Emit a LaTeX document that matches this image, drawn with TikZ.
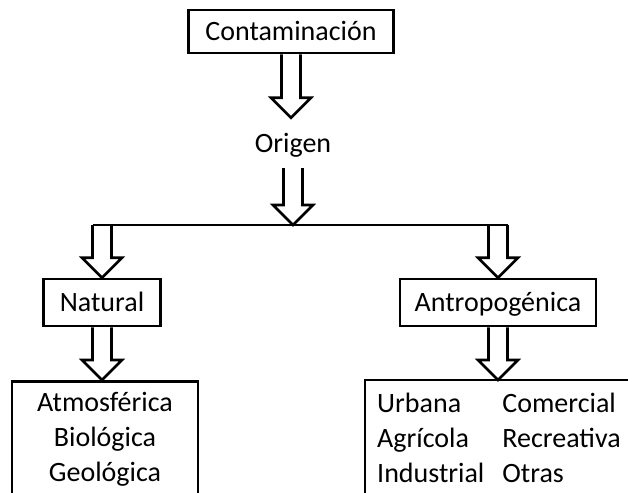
\documentclass[tikz,border=0pt]{standalone}
\usepackage{fontspec}
\setmainfont{Carlito}
\usetikzlibrary{calc}

\tikzset{
	texto/.style={inner sep=0pt, font=\fontsize{28}{35}\selectfont},
	caja/.style={texto, draw, line width=2.6pt, text height=18pt, text depth=0pt},
	lista/.style={texto, draw, line width=2.6pt},
	bloque/.style={line width=2.6pt, line join=miter}
}

% flecha hueca vertical, a la x del primer punto
\newcommand{\flecha}[2]{%
	\draw[bloque] let \p1=(#1), \p2=(#2) in
		(\x1-9.5pt,\y1) -- (\x1-9.5pt,\y2+20pt) -- (\x1-20pt,\y2+20pt) -- (\x1,\y2)
		-- (\x1+20pt,\y2+20pt) -- (\x1+9.5pt,\y2+20pt) -- (\x1+9.5pt,\y1);}

\begin{document}
\begin{tikzpicture}[x=1pt, y=-1pt]
	\useasboundingbox (0,0) rectangle (628,492);
	\clip (0,0) rectangle (628,492);

	\node[caja, minimum width=205pt, minimum height=43pt] (cont) at (291,31.5) {Contaminación};
	\node[texto, text height=18pt, text depth=0pt, minimum height=50pt] (origen) at (293,143) {Origen};
	\node[caja, minimum width=117pt, minimum height=47pt] (natural) at (102,302.5) {Natural};
	\node[caja, minimum width=196pt, minimum height=47pt] (antro) at (498,302.5) {Antropogénica};

	\node[lista, anchor=north, minimum width=186pt, inner ysep=11pt, align=center] (natlist) at (105,380)
		{Atmosférica\\Biológica\\Geológica};
	\node[texto, anchor=north west, inner xsep=12pt, inner ysep=7.5pt] (antlist) at (365,380)
		{\begin{tabular}{@{}l@{\hspace{18pt}}l@{\hspace{120pt}}}
			Urbana & Comercial\\
			Agrícola & Recreativa\\
			Industrial & Otras
		\end{tabular}};
	% caja abierta: el lado derecho queda fuera de la figura
	\draw[bloque] (antlist.south west) -- (antlist.north west) -- (antlist.north east);

	\coordinate (split) at (293,225);
	\coordinate (izq) at (102,225);
	\coordinate (der) at (498,225);

	\flecha{cont.south}{origen.north}
	\flecha{origen.south}{split}
	\draw[bloque] ([xshift=-9.5pt]izq) -- ([xshift=9.5pt]der);
	\flecha{izq}{natural.north}
	\flecha{der}{antro.north}
	\flecha{natural.south}{natlist.north}
	\flecha{antro.south}{antlist.north}

\end{tikzpicture}
\end{document}
